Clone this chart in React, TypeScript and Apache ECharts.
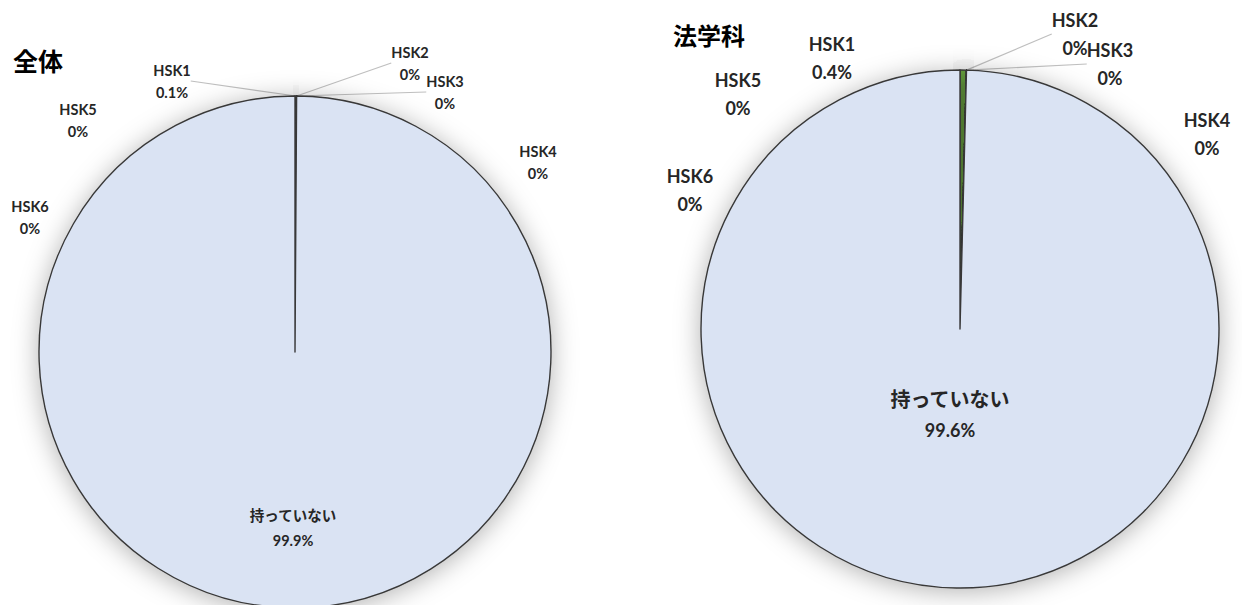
import React, { useEffect, useRef } from "react";
import * as echarts from "echarts";

// ---- Data ----
const categories = ["HSK1", "HSK2", "HSK3", "HSK4", "HSK5", "HSK6", "持っていない"];
const overallValues = [0.1, 0, 0, 0, 0, 0, 99.9];
const lawValues = [0.4, 0, 0, 0, 0, 0, 99.6];
const chartTitles = ["全体", "法学科"];

// ---- Layout (label centres, in px) ----
const overallLabelPos = [
  [172, 81], [410, 63], [445, 92], [538, 162], [78, 120], [30, 217], [293, 525],
];
const lawLabelPos = [
  [832, 58], [1075, 34], [1110, 64], [1207, 134], [738, 94], [690, 190], [950, 412],
];
const overallLeader = [true, true, true, false, false, false, false];
const lawLeader = [false, true, true, false, false, false, false];

const colors = ["#70ad47", "#ffc000", "#5b9bd5", "#a5a5a5", "#ed7d31", "#4472c4", "#dae3f3"];
const latin = "Lato, 'Noto Sans CJK JP', sans-serif";
const cjk = "'Noto Sans CJK JP', sans-serif";

function buildSeries(
  values: number[],
  pos: number[][],
  leader: boolean[],
  center: number[],
  radius: number,
  small: number,
  big: number,
  lh: number
) {
  return {
    type: "pie",
    center,
    radius,
    startAngle: 90,
    clockwise: true,
    avoidLabelOverlap: false,
    minShowLabelAngle: -1,
    stillShowZeroSum: true,
    silent: true,
    itemStyle: {
      borderColor: "#383838",
      borderWidth: 1.4,
      shadowBlur: 26,
      shadowColor: "rgba(0,0,0,0.3)",
      shadowOffsetY: 3,
    },
    label: {
      show: true,
      formatter: (p: any) =>
        p.dataIndex === values.length - 1
          ? `{m|${p.name}}\n{v|${p.value}%}`
          : `{n|${p.name}}\n{v|${p.value}%}`,
      rich: {
        n: { fontSize: small, fontWeight: "bold", fontFamily: latin, color: "#262626", lineHeight: lh, align: "center" },
        v: { fontSize: small, fontWeight: "bold", fontFamily: latin, color: "#262626", lineHeight: lh, align: "center" },
        m: { fontSize: big, fontWeight: "bold", fontFamily: cjk, color: "#262626", lineHeight: lh + 8, align: "center" },
      },
    },
    labelLine: {
      show: true,
      length: 0,
      length2: 0,
      smooth: false,
      lineStyle: { color: "#bfbfbf", width: 1.2 },
    },
    labelLayout: (params: any) => {
      const p = pos[params.dataIndex];
      return { x: p[0], y: p[1], align: "center", verticalAlign: "middle" };
    },
    data: categories.map((name, i) => ({
      name,
      value: values[i],
      itemStyle: { color: colors[i] },
      labelLine: { show: leader[i] },
    })),
  };
}

export default function App() {
  const ref = useRef<HTMLDivElement>(null);
  useEffect(() => {
    if (!ref.current) return;
    const chart = echarts.init(ref.current, undefined, { renderer: "svg" });
    chart.setOption({
      animation: false,
      backgroundColor: "#ffffff",
      title: [
        {
          text: chartTitles[0],
          left: 8,
          top: 42,
          textStyle: { fontSize: 25, fontWeight: "bold", fontFamily: cjk, color: "#000" },
        },
        {
          text: chartTitles[1],
          left: 668,
          top: 17,
          textStyle: { fontSize: 24, fontWeight: "bold", fontFamily: cjk, color: "#000" },
        },
      ],
      series: [
        buildSeries(overallValues, overallLabelPos, overallLeader, [295, 352], 256, 14.5, 14.5, 22),
        buildSeries(lawValues, lawLabelPos, lawLeader, [960, 329], 259, 18, 20, 28),
      ],
    });
    return () => chart.dispose();
  }, []);
  return (
    <div
      ref={ref}
      style={{ position: "absolute", left: 0, top: 0, width: 1242, height: 605, background: "#fff" }}
    />
  );
}
